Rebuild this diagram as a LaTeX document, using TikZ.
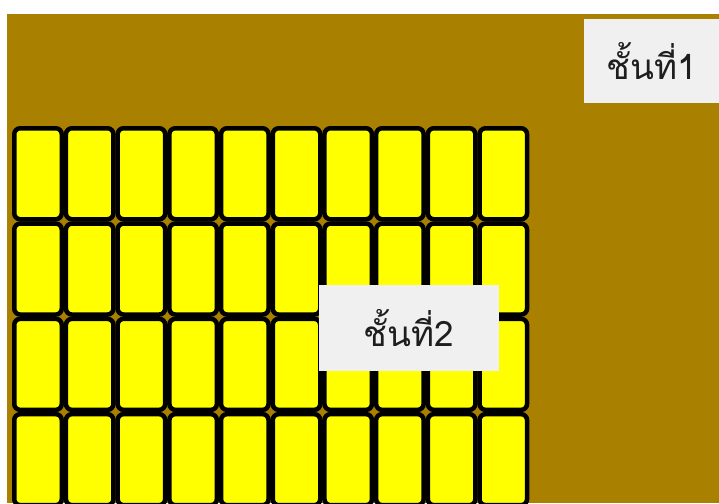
\documentclass[tikz,border=0pt]{standalone}
\usepackage{fontspec}
\newfontfamily\thaifont[Script=Thai]{Loma}
\usepackage{xcolor}
\usepackage{tikz}
\usetikzlibrary{positioning}
\definecolor{soilbrown}{RGB}{170, 128, 0}
\definecolor{boxyellow}{RGB}{255, 255, 0}
\definecolor{labelgray}{RGB}{240, 240, 240}
\definecolor{textgray}{RGB}{30, 30, 30}
\tikzset{
  cell/.style={
    draw=black, line width=4.5pt, fill=boxyellow,
    rounded corners=6pt, inner sep=0pt,
    minimum width=47.5pt, minimum height=91pt,
  },
  floorlabel/.style={
    fill=labelgray, inner sep=0pt, text=textgray,
    font=\thaifont\fontsize{35}{42}\selectfont,
  },
}

\begin{document}
\begin{tikzpicture}[x=1pt, y=-1pt]

\useasboundingbox (0,0) rectangle (719,503);
\clip (0,0) rectangle (719,503);
\fill[white] (0,0) rectangle (719,503);
\fill[soilbrown] (7,14) rectangle (719,503);

% stacked boxes, 10 columns by 4 rows
\foreach \i in {0,...,9}{
  \foreach \j in {0,...,3}{
    \node[cell] (c-\i-\j) at ({38+51.7*\i}, {173.75+95.3*\j}) {};
  }
}

\node[floorlabel, minimum width=135pt, minimum height=84pt] (floor1) at (651.5,61) {ชั้นที่1};
\node[floorlabel, minimum width=180pt, minimum height=86pt] (floor2) at (409,328) {ชั้นที่2};

\end{tikzpicture}
\end{document}
